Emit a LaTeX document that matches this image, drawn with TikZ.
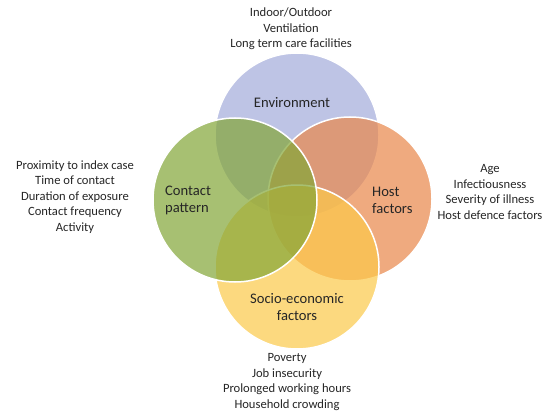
\documentclass[tikz,border=0pt]{standalone}
\usepackage{fontspec}
\setmainfont{Carlito}
\begin{document}
\begin{tikzpicture}[x=1pt,y=-1pt,
  venn/.style={draw=white,line width=1.5pt,fill opacity=0.7},
  outer/.style={align=center,font=\fontsize{12.6}{15.4}\selectfont,text=black!85,inner sep=0pt},
  clabel/.style={font=\fontsize{14.6}{17}\selectfont,text=black!85,inner sep=0pt},
]
\useasboundingbox (0,0) rectangle (548,417);
\fill[white] (0,0) rectangle (548,417);
\def\R{82}
\path[venn,fill={rgb,255:red,163;green,172;blue,218}] (297,135) circle (\R) coordinate (env);
\path[venn,fill={rgb,255:red,233;green,135;blue,74}] (350,199) circle (\R) coordinate (host);
\path[venn,fill={rgb,255:red,252;green,201;blue,73}] (297,267) circle (\R) coordinate (socio);
\path[venn,fill={rgb,255:red,131;green,166;blue,55}] (235,200) circle (\R) coordinate (contact);
\node[clabel] (envl) at (292,103) {Environment};
\node[clabel,align=left,anchor=west] (contl) at (165,200) {Contact\\pattern};
\node[clabel,align=left,anchor=west] (hostl) at (372,200) {Host\\factors};
\node[clabel,align=center] (socl) at (297,307) {Socio-economic\\factors};
\node[outer] (envt) at (291,29) {Indoor/Outdoor\\Ventilation\\Long term care facilities};
\node[outer] (contt) at (75,197) {Proximity to index case\\Time of contact\\Duration of exposure\\Contact frequency\\Activity};
\node[outer] (hostt) at (490,192) {Age\\Infectiousness\\Severity of illness\\Host defence factors};
\node[outer] (soct) at (287,382) {Poverty\\Job insecurity\\Prolonged working hours\\Household crowding};
\end{tikzpicture}
\end{document}
